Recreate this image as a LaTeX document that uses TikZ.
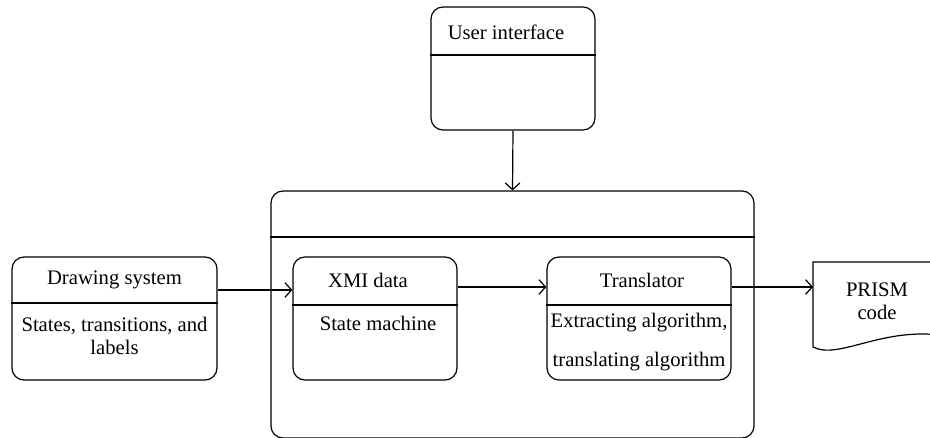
\documentclass[tikz,border=0pt]{standalone}
\usepackage{fontspec}
\setmainfont{Liberation Serif}
\usetikzlibrary{arrows.meta,calc}
\begin{document}
\begin{tikzpicture}[x=0.75pt,y=-0.75pt,
  state/.style={draw, rounded corners=9pt, line width=0.9pt, inner sep=0pt},
  divider/.style={line width=0.9pt},
  lbl/.style={font=\fontsize{15.5}{17.25}\selectfont, inner sep=0pt, align=center},
  flow/.style={-{Straight Barb[length=5pt,width=11pt]}, line width=0.9pt}]
\clip (0,0) rectangle (930,438);

% user interface
\node[state, minimum width=123pt, minimum height=92.25pt] (ui) at (513,68.5) {};
\draw[divider] (ui.west |- 0,55) -- (ui.east |- 0,55);
\node[lbl] (uit) at (506,32) {User interface};

% enclosing system box
\node[state, minimum width=362.25pt, minimum height=185.25pt] (sys) at (512.5,314.5) {};
\draw[divider] (sys.west |- 0,237) -- (sys.east |- 0,237);

% drawing system
\node[state, minimum width=153.75pt, minimum height=92.25pt] (draw) at (114.5,318.5) {};
\draw[divider] (draw.west |- 0,303) -- (draw.east |- 0,303);
\node[lbl] (drawt) at (114.5,280) {Drawing system};
\node[lbl] (drawb) at (114.5,336) {States, transitions, and\\labels};

% XMI data
\node[state, minimum width=123pt, minimum height=92.25pt] (xmi) at (375,318.5) {};
\draw[divider] (xmi.west |- 0,305) -- (xmi.east |- 0,305);
\node[lbl] (xmit) at (368,280) {XMI data};
\node[lbl] (xmib) at (378,323) {State machine};

% translator
\node[state, minimum width=138pt, minimum height=92.25pt] (tr) at (639,318.5) {};
\draw[divider] (tr.west |- 0,305) -- (tr.east |- 0,305);
\node[lbl] (trt) at (642,280) {Translator};
\node[lbl] (trb1) at (639,323) {Extracting algorithm,};
\node[lbl] (trb2) at (639,362) {translating algorithm};

% PRISM code document
\draw[line width=0.9pt] (940,262) -- (813,262) -- (813,347)
  .. controls (838,360) and (880,328) .. (940,335);
\coordinate (doc) at (813,287);
\node[lbl] (prism) at (877,301) {PRISM\\code};

% connectors
\draw[flow] (ui.south) -- (sys.north);
\draw[flow] (draw.east |- 0,290) -- (xmi.west |- 0,290);
\draw[flow] (xmi.east |- 0,287) -- (tr.west |- 0,287);
\draw[flow] (tr.east |- 0,287) -- (doc);
\end{tikzpicture}
\end{document}
